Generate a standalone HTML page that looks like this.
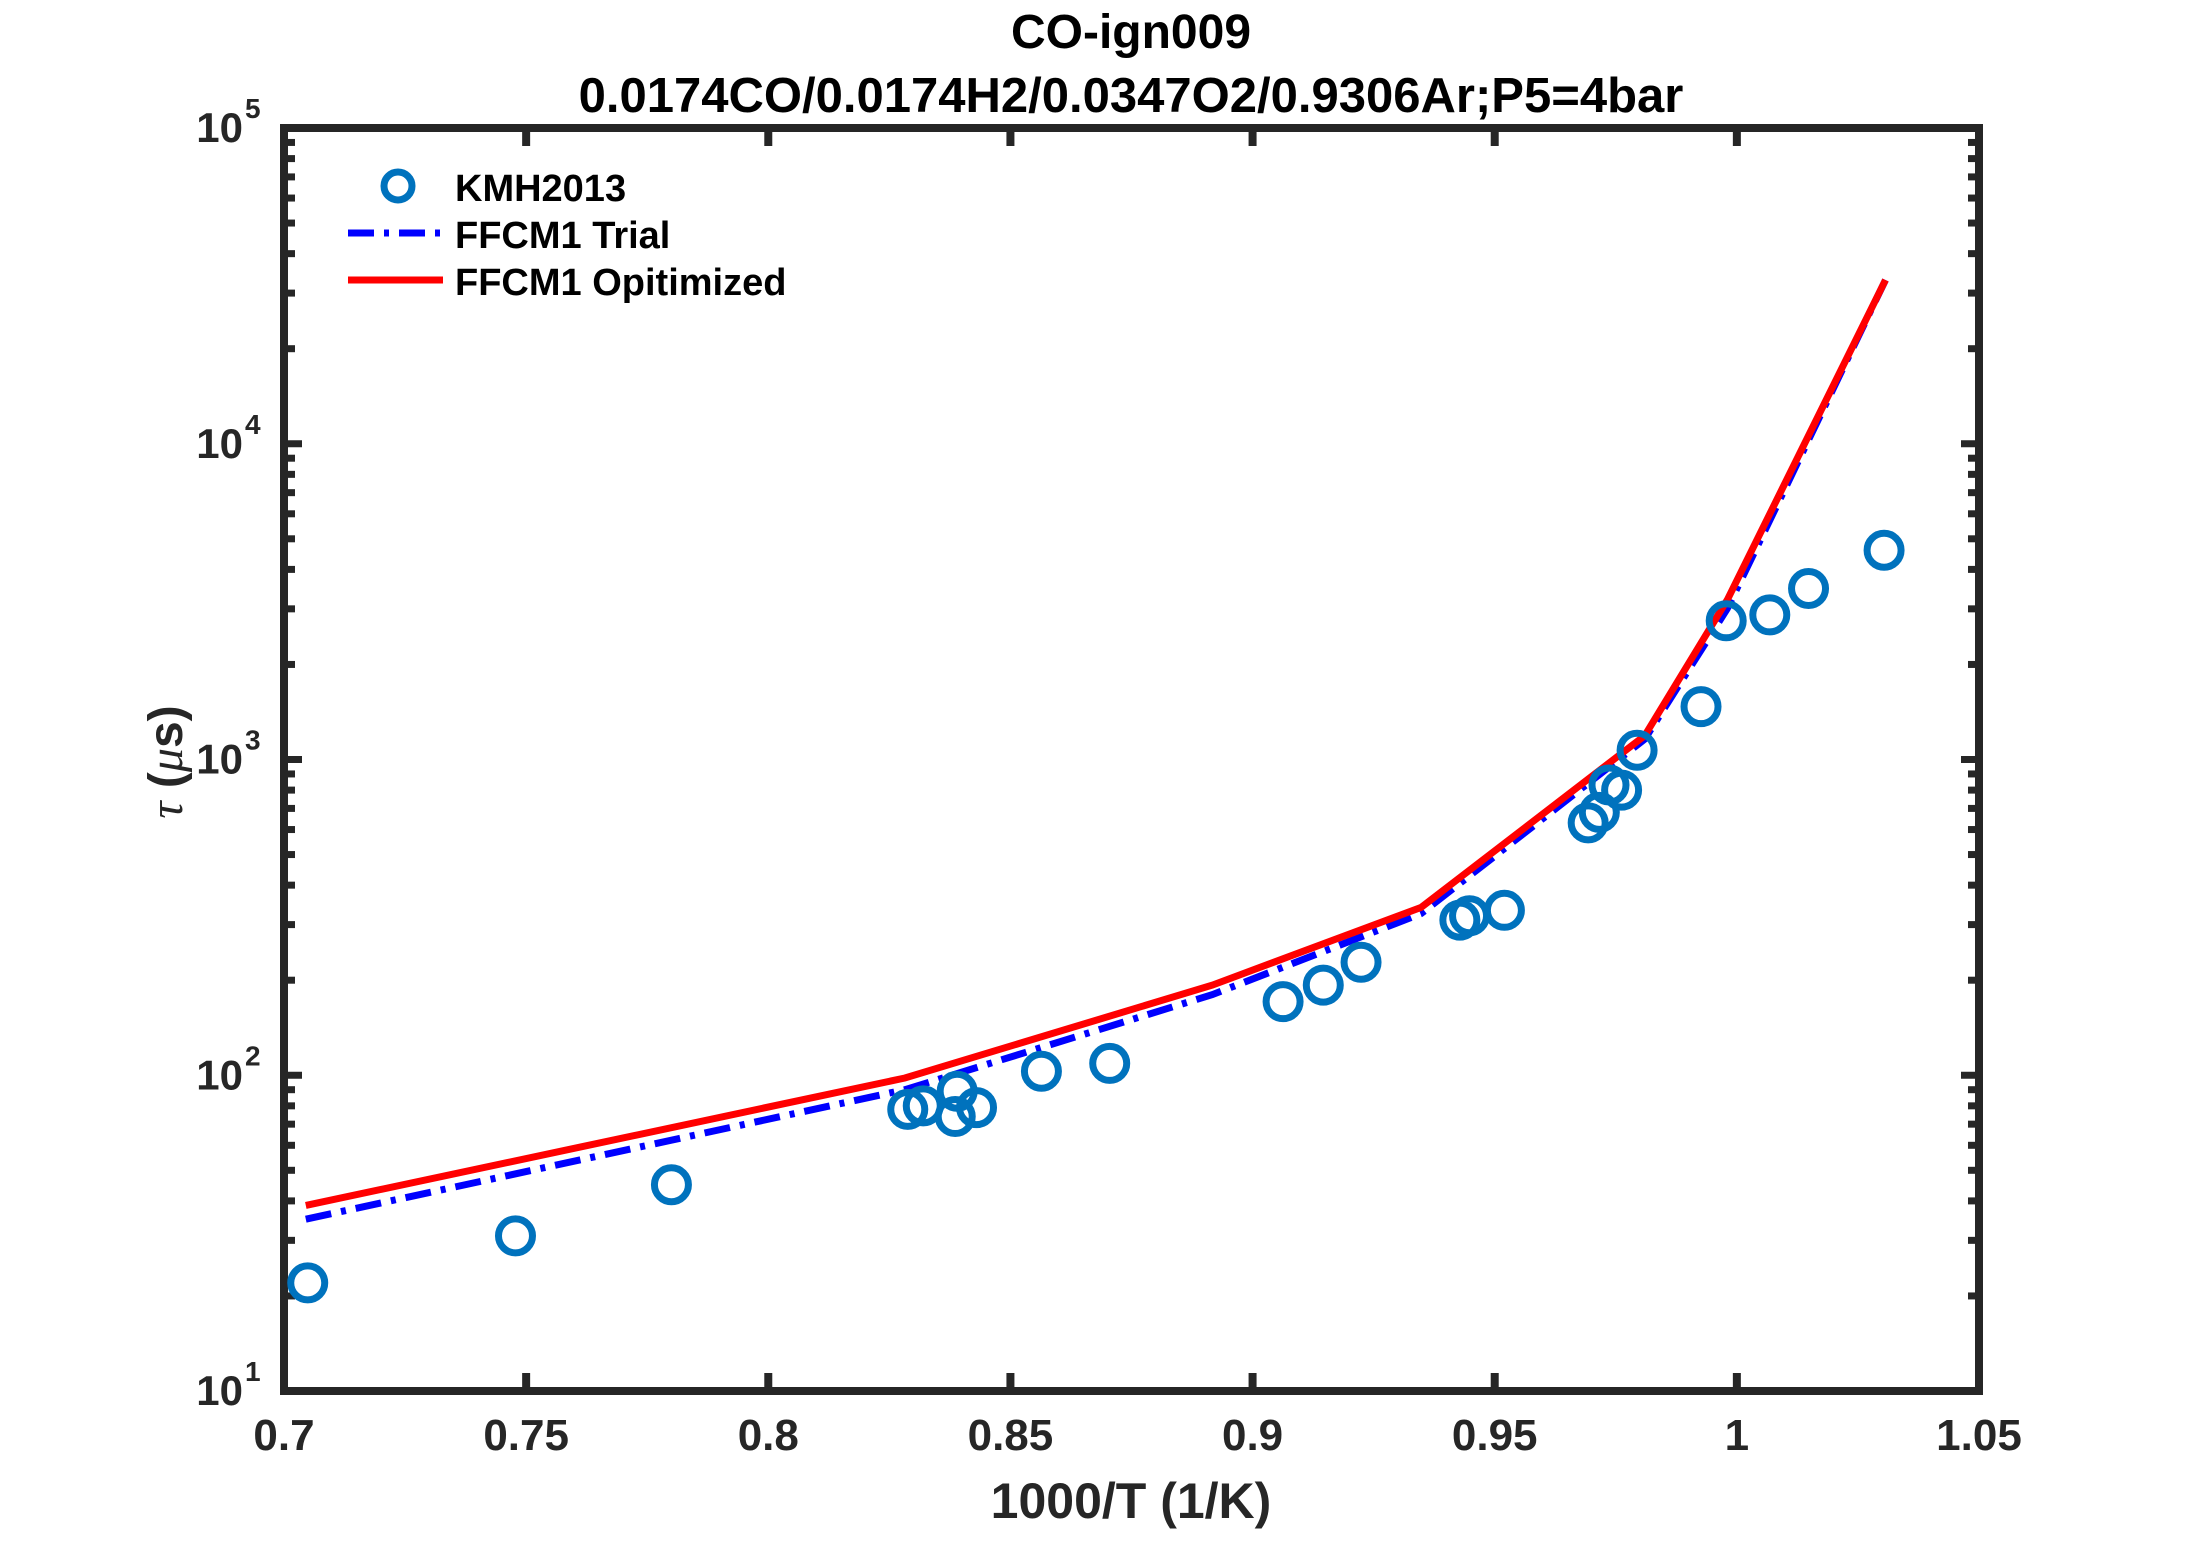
<!DOCTYPE html>
<html><head><meta charset="utf-8"><style>
html,body{margin:0;padding:0;background:#fff;}
svg{display:block;font-family:"Liberation Sans",Arial,sans-serif;font-weight:bold;}
</style></head><body>
<svg id="s" width="2187" height="1563" xmlns="http://www.w3.org/2000/svg"></svg>
<script>
const L=284,R=1979,T=128,B=1391;
const X=x=>L+(x-0.7)/0.35*(R-L);
const Y=v=>B-(Math.log10(v)-1)*(B-T)/4;
let s='';
s+=`<text x="1131" y="48" font-size="48" text-anchor="middle" fill="#000">CO-ign009</text>`;
s+=`<text x="1131" y="112" font-size="49" text-anchor="middle" fill="#000">0.0174CO/0.0174H2/0.0347O2/0.9306Ar;P5=4bar</text>`;
for(let i=0;i<=7;i++){const x=X(0.7+i*0.05);
 s+=`<line x1="${x}" y1="${B}" x2="${x}" y2="${B-18}" stroke="#262626" stroke-width="8"/>`;
 s+=`<line x1="${x}" y1="${T}" x2="${x}" y2="${T+18}" stroke="#262626" stroke-width="8"/>`;
 const lab=[0.7,0.75,0.8,0.85,0.9,0.95,1,1.05][i];
 s+=`<text x="${x}" y="1450" font-size="44" text-anchor="middle" fill="#262626">${lab}</text>`;}
for(let d=1;d<=5;d++){
 for(let m=1;m<=9;m++){ if(d==5&&m>1)break; const v=m*Math.pow(10,d); const y=Y(v); const len=m==1?18:11;
  s+=`<line x1="${L}" y1="${y}" x2="${L+len}" y2="${y}" stroke="#262626" stroke-width="7"/>`;
  s+=`<line x1="${R}" y1="${y}" x2="${R-len}" y2="${y}" stroke="#262626" stroke-width="7"/>`;}
 const y=Y(Math.pow(10,d));
 s+=`<text x="243" y="${y+14}" font-size="42" text-anchor="end" fill="#262626">10</text><text x="245" y="${y-10}" font-size="28" fill="#262626">${d}</text>`;
}
s+=`<rect x="${L}" y="${T}" width="${R-L}" height="${B-T}" fill="none" stroke="#262626" stroke-width="8"/>`;
s+=`<text x="1131" y="1518" font-size="50" text-anchor="middle" fill="#262626">1000/T (1/K)</text>`;
s+=`<text transform="translate(182,762) rotate(-90)" font-size="48" text-anchor="middle" fill="#262626"><tspan font-family="Liberation Serif" font-style="italic" font-weight="normal">τ</tspan> (<tspan font-family="Liberation Serif" font-style="italic" font-weight="normal">μ</tspan>s)</text>`;
const blue=[[0.7045,35],[0.8282,90],[0.8917,180],[0.9348,325],[0.981,1160],[0.998,3000],[1.0307,33000]];
const red=[[0.7045,38.7],[0.8282,98],[0.8917,193],[0.9348,340],[0.981,1190],[0.998,3200],[1.0307,33000]];
const pl=a=>a.map(p=>X(p[0]).toFixed(1)+','+Y(p[1]).toFixed(1)).join(' ');
s+=`<polyline points="${pl(blue)}" fill="none" stroke="#0000ff" stroke-width="7" stroke-dasharray="26,10,5,10"/>`;
s+=`<polyline points="${pl(red)}" fill="none" stroke="#ff0000" stroke-width="7"/>`;
const pts=[[0.7049,22],[0.7478,31],[0.780,45],[0.8288,78],[0.832,80],[0.8386,74],[0.839,89],[0.843,79],[0.8564,103],[0.8705,109],[0.9063,171],[0.9146,193],[0.9224,228],[0.9428,310],[0.9448,320],[0.952,333],[0.9693,630],[0.9716,680],[0.9736,830],[0.9762,800],[0.9794,1070],[0.9926,1470],[0.9978,2750],[1.0068,2870],[1.0148,3480],[1.0304,4600]];
for(const p of pts) s+=`<circle cx="${X(p[0])}" cy="${Y(p[1])}" r="17" fill="none" stroke="#0072BD" stroke-width="7"/>`;
s+=`<circle cx="398" cy="186" r="14" fill="none" stroke="#0072BD" stroke-width="7"/>`;
s+=`<text x="455" y="201" font-size="38" fill="#000">KMH2013</text>`;
s+=`<line x1="348" y1="233" x2="443" y2="233" stroke="#0000ff" stroke-width="7" stroke-dasharray="26,10,5,10"/>`;
s+=`<text x="455" y="248" font-size="38" fill="#000">FFCM1 Trial</text>`;
s+=`<line x1="348" y1="280" x2="443" y2="280" stroke="#ff0000" stroke-width="7"/>`;
s+=`<text x="455" y="295" font-size="38" fill="#000">FFCM1 Opitimized</text>`;
document.getElementById('s').innerHTML=s;
</script>
</body></html>
